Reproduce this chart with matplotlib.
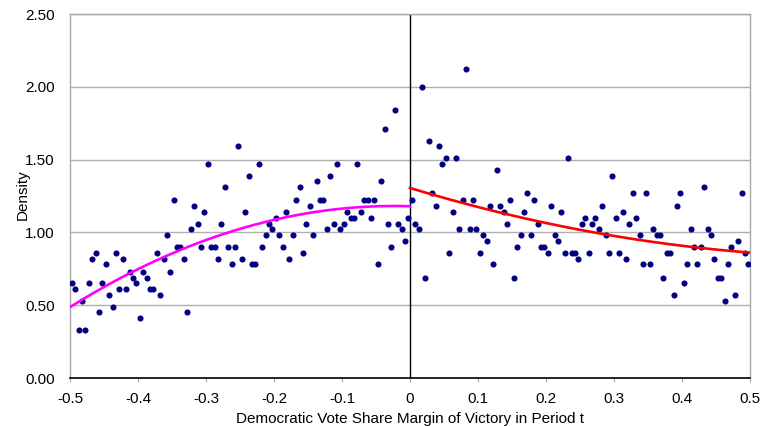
import matplotlib
matplotlib.use("Agg")
import matplotlib.pyplot as plt
import numpy as np

plt.rcParams["font.family"] = ["Liberation Sans", "DejaVu Sans"]

# bin centres, bins of width 0.005 from -0.5 to 0.5
bin_lo = -0.5
bin_w = 0.005

# density per bin (left of the cut-off)
dens_left = [
    0.65, 0.61, 0.33, 0.53, 0.33, 0.65, 0.82, 0.86, 0.45, 0.65,
    0.78, 0.57, 0.49, 0.86, 0.61, 0.82, 0.61, 0.73, 0.69, 0.65,
    0.41, 0.73, 0.69, 0.61, 0.61, 0.86, 0.57, 0.82, 0.98, 0.73,
    1.22, 0.90, 0.90, 0.82, 0.45, 1.02, 1.18, 1.06, 0.90, 1.14,
    1.47, 0.90, 0.90, 0.82, 1.06, 1.31, 0.90, 0.78, 0.90, 1.59,
    0.82, 1.14, 1.39, 0.78, 0.78, 1.47, 0.90, 0.98, 1.06, 1.02,
    1.10, 0.98, 0.90, 1.14, 0.82, 0.98, 1.22, 1.31, 0.86, 1.06,
    1.18, 0.98, 1.35, 1.22, 1.22, 1.02, 1.39, 1.06, 1.47, 1.02,
    1.06, 1.14, 1.10, 1.10, 1.47, 1.14, 1.22, 1.22, 1.10, 1.22,
    0.78, 1.35, 1.71, 1.06, 0.90, 1.84, 1.06, 1.02, 0.94, 1.10,
]
# right of the cut-off
dens_right = [
    1.22, 1.06, 1.02, 2.00, 0.69, 1.63, 1.27, 1.18, 1.59, 1.47,
    1.51, 0.86, 1.14, 1.51, 1.02, 1.22, 2.12, 1.02, 1.22, 1.02,
    0.86, 0.98, 0.94, 1.18, 0.78, 1.43, 1.18, 1.14, 1.06, 1.22,
    0.69, 0.90, 0.98, 1.14, 1.27, 0.98, 1.22, 1.06, 0.90, 0.90,
    0.86, 1.18, 0.98, 0.94, 1.14, 0.86, 1.51, 0.86, 0.86, 0.82,
    1.06, 1.10, 0.86, 1.06, 1.10, 1.02, 1.18, 0.98, 0.86, 1.39,
    1.10, 0.86, 1.14, 0.82, 1.06, 1.27, 1.10, 0.98, 0.78, 1.27,
    0.78, 1.02, 0.98, 0.98, 0.69, 0.86, 0.86, 0.57, 1.18, 1.27,
    0.65, 0.78, 1.02, 0.90, 0.78, 0.90, 1.31, 1.02, 0.98, 0.82,
    0.69, 0.69, 0.53, 0.78, 0.90, 0.57, 0.94, 1.27, 0.86, 0.78,
]

y_ticks = [0.0, 0.5, 1.0, 1.5, 2.0, 2.5]
x_ticks = [-0.5, -0.4, -0.3, -0.2, -0.1, 0.0, 0.1, 0.2, 0.3, 0.4, 0.5]
x_ticklabels = ["-0.5", "-0.4", "-0.3", "-0.2", "-0.1", "0", "0.1", "0.2", "0.3", "0.4", "0.5"]

dens = np.array(dens_left + dens_right)
x = bin_lo + bin_w / 2 + bin_w * np.arange(len(dens))
left = x < 0

fig = plt.figure(figsize=(7.62, 4.26), dpi=100)
ax = fig.add_axes([70 / 762, 48 / 426, 680 / 762, 364 / 426])

ax.set_xlim(-0.5, 0.5)
ax.set_ylim(0, 2.5)
ax.set_yticks(y_ticks)
ax.set_yticklabels([f"{v:.2f}" for v in y_ticks])
ax.set_xticks(x_ticks)
ax.set_xticklabels(x_ticklabels)
ax.yaxis.grid(True, color="#b0b0b0", lw=1.0)
ax.set_axisbelow(True)

for s in ["left", "right", "top"]:
    ax.spines[s].set_color("#a8a8a8")
    ax.spines[s].set_linewidth(1.0)
ax.spines["bottom"].set_color("black")
ax.spines["bottom"].set_linewidth(1.2)

ax.tick_params(axis="y", length=0, pad=11, labelsize=11)
ax.tick_params(axis="x", length=3, color="#a8a8a8", pad=7, labelsize=11)

ax.axvline(0, color="black", lw=1.0, zorder=2)

ax.plot(x, dens, "o", color="#000080", ms=4.4, mec="none", zorder=3)

# quadratic fits on each side of the cut-off
xl = np.linspace(-0.5, 0, 200)
pl = np.polyfit(x[left], dens[left], 2)
ax.plot(xl, np.polyval(pl, xl), color="#ff00ff", lw=1.9, zorder=4)
xr = np.linspace(0, 0.5, 200)
pr = np.polyfit(x[~left], dens[~left], 2)
ax.plot(xr, np.polyval(pr, xr), color="#ff0000", lw=1.9, zorder=4)

ax.set_xlabel("Democratic Vote Share Margin of Victory in Period t", fontsize=11)
ax.set_ylabel("Density", fontsize=11)
ax.xaxis.set_label_coords(0.5, -0.093)
ax.yaxis.set_label_coords(-0.059, 0.504)

fig.savefig("out.png", dpi=100)
